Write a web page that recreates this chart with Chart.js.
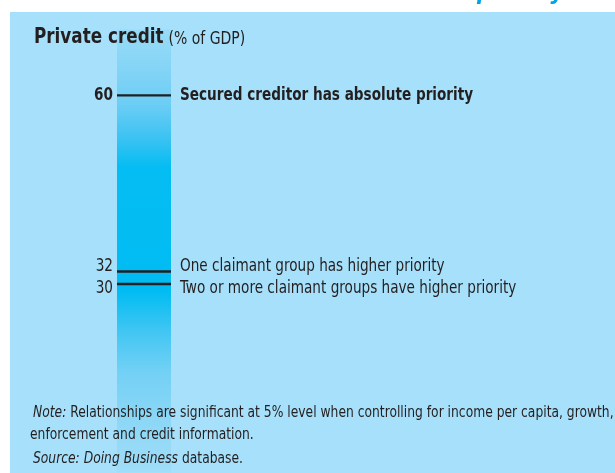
<!DOCTYPE html>
<html>
<head>
<meta charset="utf-8">
<script src="https://cdn.jsdelivr.net/npm/chart.js@4.4.1/dist/chart.umd.min.js"></script>
<style>
  html, body { margin: 0; padding: 0; background: #ffffff; overflow: hidden; }
  #wrap { position: relative; width: 615px; height: 473px; overflow: hidden; }
  canvas { display: block; }
</style>
</head>
<body>
<div id="wrap"><canvas id="chart" width="615" height="502"></canvas></div>
<script>
// data
const categories = ['Private credit'];
const barRange = [0, 70.5];
const levelValues = [60, 32, 30];
const tickLabels = ['60', '32', '30'];
const levelLabels = [
  'Secured creditor has absolute priority',
  'One claimant group has higher priority',
  'Two or more claimant groups have higher priority',
];

const FONT = "'DejaVu Sans Condensed', 'Liberation Sans Narrow', sans-serif";
const SX = 0.89; // squeeze text horizontally to get a narrow face
const INK = '#231f20';
const PANEL = '#a7e0fa';

const barGradient = (chart) => {
  const area = chart.chartArea;
  if (!area) return '#00bcf2';
  const g = chart.ctx.createLinearGradient(0, area.top, 0, area.bottom);
  const stops = [
    [0, '#98dbf7'], [0.08, '#86d5f6'], [0.17, '#6ccdf5'], [0.25, '#38c2f2'],
    [0.31, '#05bdf2'], [0.59, '#00bcf2'], [0.68, '#40c6f3'], [0.77, '#72d0f5'],
    [0.88, '#8cd7f6'], [1, '#a0ddf8'],
  ];
  stops.forEach(([o, c]) => g.addColorStop(o, c));
  return g;
};

// spread labels of levels that sit too close together
const labelYs = (chart) => {
  const y = chart.scales.y;
  const ys = levelValues.map((v) => y.getPixelForValue(v));
  const minGap = 22;
  for (let i = 1; i < ys.length; i++) {
    const gap = ys[i] - ys[i - 1];
    if (gap < minGap) {
      const mid = (ys[i] + ys[i - 1]) / 2;
      ys[i - 1] = mid - minGap / 2;
      ys[i] = mid + minGap / 2;
    }
  }
  return ys;
};

const drawText = (ctx, text, x, y, font, align = 'left') => {
  ctx.save();
  ctx.font = font;
  ctx.textAlign = align;
  ctx.translate(x, y);
  ctx.scale(SX, 1);
  ctx.fillText(text, 0, 0);
  const w = ctx.measureText(text).width * SX;
  ctx.restore();
  return w;
};

const backdrop = {
  id: 'backdrop',
  beforeDraw(chart) {
    const { ctx, width, height } = chart;
    ctx.save();
    ctx.fillStyle = '#ffffff';
    ctx.fillRect(0, 0, width, height);
    ctx.fillStyle = PANEL;
    ctx.fillRect(10, 12, width - 10, height - 12);

    // cut-off heading above the panel
    ctx.fillStyle = '#00a3e6';
    ctx.textBaseline = 'alphabetic';
    ctx.font = `italic bold 23px ${FONT}`;
    ctx.fillText('priority', 477, -1);
    ctx.restore();
  },
};

const annotations = {
  id: 'annotations',
  afterDraw(chart) {
    const { ctx, chartArea } = chart;
    const ys = labelYs(chart);
    ctx.save();
    ctx.fillStyle = INK;
    ctx.textBaseline = 'middle';

    // title
    const tw = drawText(ctx, categories[0], 34, 38, `bold 21px ${FONT}`);
    drawText(ctx, '(% of GDP)', 34 + tw + 5, 39, `17.5px ${FONT}`);

    // tick labels left, level labels right
    ys.forEach((y, i) => {
      const font = `${i === 0 ? 'bold ' : ''}17px ${FONT}`;
      drawText(ctx, tickLabels[i], chartArea.left - 4, y, font, 'right');
      drawText(ctx, levelLabels[i], chartArea.right + 9, y, font);
    });

    // notes
    const drawRuns = (runs, x, y) => {
      runs.forEach(([text, style]) => {
        x += drawText(ctx, text, x, y, `${style}15.4px ${FONT}`);
      });
    };
    drawRuns([['Note:', 'italic '], [' Relationships are significant at 5% level when controlling for income per capita, growth,', '']], 33, 413);
    drawRuns([['enforcement and credit information.', '']], 30, 435);
    drawRuns([['Source: Doing Business', 'italic '], [' database.', '']], 33, 459);
    ctx.restore();
  },
};

const levelDatasets = levelValues.map((v, i) => ({
  type: 'line',
  label: levelLabels[i],
  data: [v],
  showLine: false,
  pointStyle: 'line',
  pointRadius: 27,
  pointHoverRadius: 27,
  pointBorderWidth: 2.4,
  borderColor: INK,
  backgroundColor: INK,
  order: 1,
}));

new Chart(document.getElementById('chart'), {
  type: 'bar',
  data: {
    labels: categories,
    datasets: [
      {
        label: 'Private credit',
        data: [barRange],
        backgroundColor: (c) => barGradient(c.chart),
        borderWidth: 0,
        barPercentage: 1,
        categoryPercentage: 1,
        order: 2,
      },
      ...levelDatasets,
    ],
  },
  options: {
    responsive: false,
    animation: false,
    events: [],
    // the point radius of the level marks adds 27px of room at the bottom,
    // which falls below the visible 473px window
    layout: { padding: { left: 117, right: 444, top: 27, bottom: 0 } },
    plugins: { legend: { display: false }, tooltip: { enabled: false } },
    scales: {
      x: { display: false },
      y: { display: false, min: 0, max: 70.5 },
    },
  },
  plugins: [backdrop, annotations],
});
</script>
</body>
</html>
